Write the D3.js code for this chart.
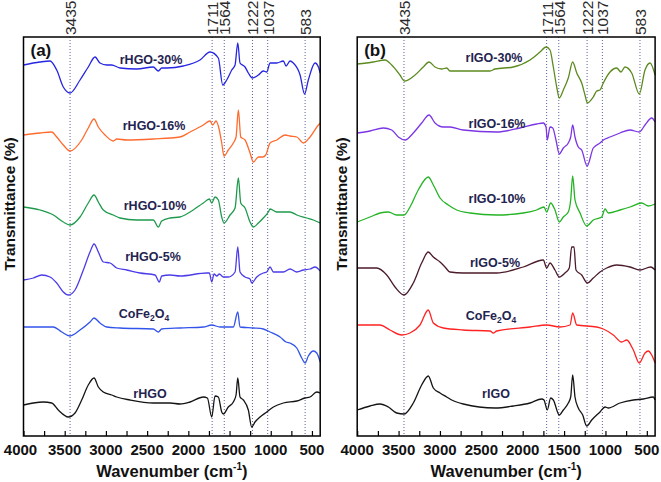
<!DOCTYPE html>
<html><head><meta charset="utf-8">
<script src="https://cdn.jsdelivr.net/npm/d3@7"></script>
<style>body{margin:0;background:#fff}svg{display:block}</style>
</head><body>
<svg id="c" width="661" height="482"></svg>
<script>
// ---------- data ----------
const xTickLabels = [4000,3500,3000,2500,2000,1500,1000,500];
const peakLines = [3435,1711,1564,1222,1037,583];
const namesA = ["rHGO-30%","rHGO-16%","rHGO-10%","rHGO-5%","CoFe2O4","rHGO"];
const namesB = ["rIGO-30%","rIGO-16%","rIGO-10%","rIGO-5%","CoFe2O4","rIGO"];

const hgo30 = [[4000,371],[3800,374],[3678,375],[3597,366],[3517,349],[3435,343],[3314,356],[3214,369],[3132,379],[3072,373],[2990,371],[2930,371],[2829,368],[2626,367],[2425,369],[2364,365],[2323,368],[2262,368],[2061,370],[1858,376],[1737,384],[1636,378],[1583,351],[1534,356],[1473,366],[1433,371],[1400,393],[1373,373],[1312,369],[1272,363],[1222,358],[1150,361],[1090,365],[1049,364],[1008,373],[927,373],[847,375],[814,370],[766,375],[726,373],[644,361],[590,342],[544,356],[462,373],[422,369],[400,363]];
const hgo16 = [[4000,301],[3800,303],[3658,304],[3597,299],[3517,291],[3435,285],[3294,296],[3214,308],[3144,317],[3092,309],[3011,301],[2910,295],[2869,297],[2748,296],[2425,297],[2101,299],[1979,304],[1818,311],[1737,315],[1704,311],[1664,315],[1624,306],[1595,293],[1567,280],[1515,286],[1454,293],[1421,299],[1393,326],[1364,299],[1312,296],[1251,283],[1211,274],[1150,279],[1097,279],[1061,281],[1008,293],[927,296],[826,301],[766,300],[684,299],[604,293],[523,299],[422,311],[400,313]];
const hgo10 = [[4000,229],[3800,226],[3638,221],[3517,214],[3436,211],[3314,219],[3214,233],[3144,241],[3092,234],[3032,226],[2910,221],[2829,218],[2626,216],[2425,216],[2364,209],[2323,215],[2222,218],[2101,219],[1979,224],[1818,233],[1745,237],[1716,233],[1676,239],[1636,236],[1595,219],[1567,213],[1494,221],[1433,228],[1393,258],[1364,233],[1312,228],[1251,214],[1211,209],[1150,213],[1090,218],[1029,224],[1008,227],[927,224],[766,224],[684,221],[563,218],[483,216],[400,213]];
const hgo5 = [[4000,156],[3881,158],[3779,161],[3678,159],[3597,153],[3517,144],[3456,141],[3375,146],[3274,166],[3193,184],[3144,192],[3092,184],[3032,174],[2950,173],[2869,168],[2748,166],[2586,163],[2404,161],[2352,154],[2323,160],[2222,161],[2101,160],[1777,163],[1745,163],[1716,154],[1688,162],[1655,160],[1624,162],[1575,159],[1515,159],[1433,164],[1400,189],[1373,164],[1312,159],[1251,157],[1231,153],[1170,159],[1090,163],[1049,164],[1008,169],[968,164],[847,164],[766,167],[684,164],[604,166],[523,167],[462,169],[400,165]];
const cofeA = [[4000,109],[3638,109],[3536,104],[3436,100],[3314,106],[3193,114],[3144,118],[3072,113],[2990,109],[2829,108],[2425,107],[2364,104],[2323,107],[2101,108],[1818,109],[1716,111],[1615,109],[1454,109],[1400,124],[1373,109],[1211,108],[1090,107],[1008,104],[887,99],[814,94],[766,93],[684,88],[624,78],[584,73],[544,80],[483,85],[442,83],[400,74]];
const hgo0 = [[4000,31],[3881,33],[3760,34],[3658,33],[3578,26],[3456,19],[3375,23],[3294,36],[3214,51],[3144,58],[3092,49],[3032,44],[2930,41],[2869,39],[2708,36],[2425,33],[2222,33],[2101,32],[1979,34],[1818,39],[1769,38],[1716,19],[1676,40],[1636,39],[1595,24],[1575,22],[1515,29],[1454,34],[1421,41],[1400,58],[1373,39],[1332,36],[1272,26],[1231,9],[1191,14],[1130,19],[1049,24],[968,29],[847,33],[684,35],[584,38],[523,39],[442,44],[400,43]];

const igo30 = [[4000,372],[3805,374],[3664,376],[3583,371],[3483,361],[3430,355],[3301,361],[3201,369],[3132,374],[3060,369],[2979,367],[2918,368],[2879,365],[2718,365],[2395,365],[2335,367],[2114,369],[1912,376],[1791,384],[1718,389],[1670,386],[1630,369],[1589,349],[1558,338],[1509,346],[1449,358],[1396,374],[1347,363],[1287,353],[1247,341],[1219,333],[1147,339],[1106,345],[1066,346],[1026,353],[945,364],[864,368],[812,364],[764,369],[683,363],[591,342],[522,366],[461,373],[400,361]];
const igo16 = [[4000,303],[3845,305],[3685,308],[3583,306],[3503,299],[3422,296],[3322,303],[3221,313],[3132,321],[3060,313],[2959,309],[2879,309],[2718,306],[2314,304],[2033,308],[1831,312],[1751,313],[1718,309],[1703,296],[1670,309],[1637,308],[1598,296],[1558,282],[1509,288],[1449,293],[1420,299],[1396,311],[1368,299],[1328,289],[1287,286],[1222,270],[1147,288],[1066,293],[1026,296],[945,299],[824,303],[703,306],[591,304],[522,311],[441,318],[400,314]];
const igo10 = [[4000,214],[3845,219],[3724,223],[3624,224],[3523,221],[3434,221],[3362,229],[3262,246],[3141,259],[3080,251],[2999,238],[2899,231],[2798,226],[2637,223],[2314,221],[1993,223],[1831,226],[1743,229],[1710,224],[1662,233],[1610,226],[1558,214],[1509,219],[1449,224],[1420,236],[1396,260],[1368,236],[1307,223],[1227,210],[1147,216],[1045,219],[1005,227],[965,223],[824,226],[703,229],[562,233],[482,230],[400,232]];
const igo5 = [[4000,168],[3764,168],[3643,161],[3543,149],[3434,141],[3322,153],[3221,173],[3141,184],[3080,179],[2999,174],[2939,169],[2879,164],[2718,163],[2314,163],[1993,169],[1751,176],[1710,168],[1670,173],[1610,166],[1558,159],[1489,163],[1437,168],[1408,189],[1380,189],[1356,166],[1287,161],[1219,153],[1147,158],[1066,164],[985,168],[864,171],[703,169],[582,166],[453,169],[400,166]];
const cofeB = [[4000,111],[3724,111],[3604,106],[3462,101],[3362,103],[3241,111],[3141,126],[3080,113],[2959,108],[2718,106],[2395,105],[2355,103],[2314,105],[1912,109],[1710,111],[1549,109],[1428,111],[1396,123],[1347,111],[1106,109],[1026,107],[905,101],[804,94],[743,96],[663,86],[591,73],[522,83],[482,85],[441,81],[400,73]];
const igo0 = [[4000,26],[3845,30],[3724,32],[3624,29],[3523,23],[3434,22],[3322,33],[3221,51],[3141,60],[3080,48],[2999,43],[2918,39],[2858,36],[2718,32],[2335,28],[2114,30],[1912,33],[1770,37],[1743,36],[1703,26],[1662,38],[1630,36],[1558,21],[1509,26],[1449,33],[1420,39],[1396,61],[1368,39],[1328,28],[1275,21],[1227,10],[1166,16],[1066,24],[1005,29],[965,28],[824,33],[663,36],[542,37],[422,39],[400,36]];

// ---------- layout / style ----------
const FONT = "'Liberation Sans', Arial, Helvetica, sans-serif";
const plotTop = 37, plotBottom = 436;
const panels = [
  { tag:"(a)", left:23.5, right:320.2, names:namesA,
    series:[hgo30,hgo16,hgo10,hgo5,cofeA,hgo0],
    colors:["#2626e2","#ff6b2e","#1f9a4c","#4b3ce8","#3354ea","#141414"],
    labelPos:[[151,63.5],[154,130],[155,210],[153,261],[144,318],[150,398]],
    yLabelX:15 },
  { tag:"(b)", left:357.2, right:655.1, names:namesB,
    series:[igo30,igo16,igo10,igo5,cofeB,igo0],
    colors:["#5c8a1f","#7b35e4","#25b425","#4b1b2a","#ff2222","#141414"],
    labelPos:[[494,61.5],[497,128],[497,203],[495,267],[491,320],[496,398]],
    yLabelX:347 }
];

const svg = d3.select("#c");
svg.append("rect").attr("width",661).attr("height",482).attr("fill","#fff");
const y = d3.scaleLinear().domain([0,399]).range([plotBottom, plotTop]);

panels.forEach((p, pi) => {
  const x = d3.scaleLinear().domain([4000,400]).range([p.left, p.right]);
  const g = svg.append("g");

  // dotted reference lines
  g.selectAll("line.peak").data(peakLines).enter().append("line")
    .attr("x1", d => x(d)).attr("x2", d => x(d))
    .attr("y1", plotTop).attr("y2", plotBottom)
    .attr("stroke", "#5b629e").attr("stroke-width", 1)
    .attr("stroke-dasharray", "1,2");

  // peak labels (rotated)
  g.selectAll("text.peak").data(peakLines).enter().append("text")
    .attr("transform", d => `translate(${x(d)+6},35) rotate(-90)`)
    .attr("font-family", FONT).attr("font-size", 15.5)
    .attr("fill", "#2a2a2a").text(d => d);

  // curves
  const line = d3.line().x(d => x(d[0])).y(d => y(d[1])).curve(d3.curveMonotoneX);
  p.series.forEach((s, i) => {
    g.append("path").datum(s).attr("d", line)
      .attr("fill","none").attr("stroke", p.colors[i])
      .attr("stroke-width", 1.3).attr("stroke-linejoin","round");
  });

  // curve labels
  p.names.forEach((n, i) => {
    const t = g.append("text").attr("x", p.labelPos[i][0]).attr("y", p.labelPos[i][1])
      .attr("text-anchor","middle").attr("font-family", FONT)
      .attr("font-weight","bold").attr("font-size", 12.5).attr("fill","#1f2450");
    if (n === "CoFe2O4") {
      t.append("tspan").text("CoFe");
      t.append("tspan").text("2").attr("font-size",8.5).attr("dy",3);
      t.append("tspan").text("O").attr("dy",-3);
      t.append("tspan").text("4").attr("font-size",8.5).attr("dy",3);
    } else t.text(n);
  });

  // minor/major inward ticks
  const ticks = d3.axisBottom(x).tickValues(d3.range(4000, 399, -250))
    .tickSize(-5).tickFormat("");
  const ag = g.append("g").attr("transform", `translate(0,${plotBottom})`).call(ticks);
  ag.select(".domain").remove();
  ag.selectAll(".tick line").attr("stroke","#000").attr("stroke-width",1.2);

  // tick labels
  g.selectAll("text.tl").data(xTickLabels).enter().append("text")
    .attr("x", d => x(d) + (pi === 0 && d === 4000 ? -3 : 0)).attr("y", 454.5)
    .attr("text-anchor","middle").attr("font-family", FONT)
    .attr("font-weight","bold").attr("font-size", 15).attr("fill","#111")
    .text(d => d);

  // frame
  g.append("rect").attr("x", p.left).attr("y", plotTop)
    .attr("width", p.right - p.left).attr("height", plotBottom - plotTop)
    .attr("fill","none").attr("stroke","#000").attr("stroke-width",1.5);

  // panel tag
  g.append("text").attr("x", p.left + 7).attr("y", 56)
    .attr("font-family", FONT).attr("font-weight","bold").attr("font-size", 17)
    .attr("fill","#111").text(p.tag);

  // x label
  const xl = g.append("text").attr("x", (p.left + p.right)/2).attr("y", 477)
    .attr("text-anchor","middle").attr("font-family", FONT)
    .attr("font-weight","bold").attr("font-size", 16.5).attr("fill","#111");
  xl.append("tspan").text("Wavenumber (cm");
  xl.append("tspan").text("-1").attr("font-size", 10).attr("dy", -7);
  xl.append("tspan").text(")").attr("dy", 7);

  // y label
  g.append("text").attr("transform", `translate(${p.yLabelX},204) rotate(-90)`)
    .attr("text-anchor","middle").attr("font-family", FONT)
    .attr("font-weight","bold").attr("font-size", 15.5).attr("fill","#111")
    .text("Transmittance (%)");
});
</script>
</body></html>
